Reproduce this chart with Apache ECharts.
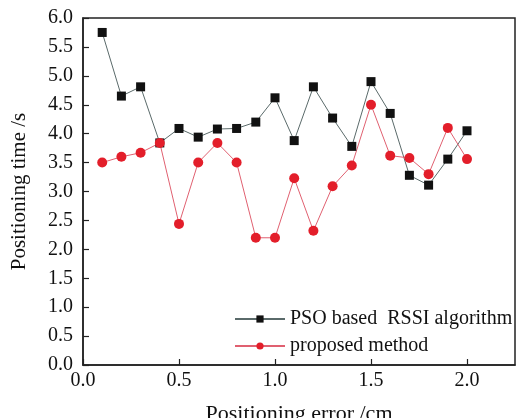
<!DOCTYPE html>
<html><head><meta charset="utf-8">
<script src="https://cdn.jsdelivr.net/npm/echarts@6/dist/echarts.min.js"></script>
<style>html,body{margin:0;padding:0;background:#fff}#c{width:525px;height:418px}</style>
</head><body><div id="c"></div>
<script>
const xValues = [0.1,0.2,0.3,0.4,0.5,0.6,0.7,0.8,0.9,1.0,1.1,1.2,1.3,1.4,1.5,1.6,1.7,1.8,1.9,2.0];
const psoValues = [5.75,4.65,4.81,3.84,4.09,3.94,4.08,4.09,4.20,4.62,3.88,4.81,4.27,3.78,4.90,4.35,3.28,3.11,3.56,4.05];
const proposedValues = [3.50,3.60,3.67,3.84,2.44,3.50,3.84,3.50,2.20,2.20,3.23,2.32,3.09,3.45,4.50,3.62,3.58,3.30,4.10,3.56];
const seriesNames = ['PSO based  RSSI algorithm','proposed method'];
const xTitle = 'Positioning error /cm';
const yTitle = 'Positioning time /s';

const font = 'Liberation Serif';
const chart = echarts.init(document.getElementById('c'));
const pair = (xs, ys) => xs.map((x,i)=>[x, ys[i]]);
chart.setOption({
  animation:false,
  grid:{left:83,right:10,top:18,bottom:53,outerBoundsMode:'none',containLabel:false,show:true,borderColor:'#222',borderWidth:1.5,backgroundColor:'transparent'},
  legend:{
    orient:'vertical', left:229, top:304, itemGap:7, itemWidth:50, itemHeight:9,
    textStyle:{fontFamily:font,fontSize:20,color:'#111'},
    data:seriesNames
  },
  xAxis:{
    type:'value', min:0, max:2.25, interval:0.5,
    axisLine:{lineStyle:{color:'#222',width:1.5}},
    axisTick:{inside:true,length:6,lineStyle:{color:'#222',width:1.2}},
    axisLabel:{fontFamily:font,fontSize:20,color:'#111',margin:6,formatter:v=>v.toFixed(1),showMaxLabel:false},
    splitLine:{show:false},
    name:xTitle, nameLocation:'middle', nameGap:38,
    nameTextStyle:{fontFamily:font,fontSize:22,color:'#111'}
  },
  yAxis:{
    type:'value', min:0, max:6, interval:0.5,
    axisLine:{show:true,lineStyle:{color:'#222',width:1.5}},
    axisTick:{show:true,inside:true,length:6,lineStyle:{color:'#222',width:1.2}},
    axisLabel:{fontFamily:font,fontSize:20,color:'#111',margin:10,formatter:v=>v.toFixed(1)},
    splitLine:{show:false},
    name:yTitle, nameLocation:'middle', nameGap:53,
    nameTextStyle:{fontFamily:font,fontSize:21,color:'#111'}
  },
  series:[
    {name:seriesNames[0],type:'line',data:pair(xValues,psoValues),symbol:'rect',symbolSize:9,
     lineStyle:{color:'#5a6a6a',width:1},itemStyle:{color:'#111'}},
    {name:seriesNames[1],type:'line',data:pair(xValues,proposedValues),symbol:'circle',symbolSize:10,
     lineStyle:{color:'#e06070',width:1},itemStyle:{color:'#e31e2a'}}
  ]
});
</script></body></html>
